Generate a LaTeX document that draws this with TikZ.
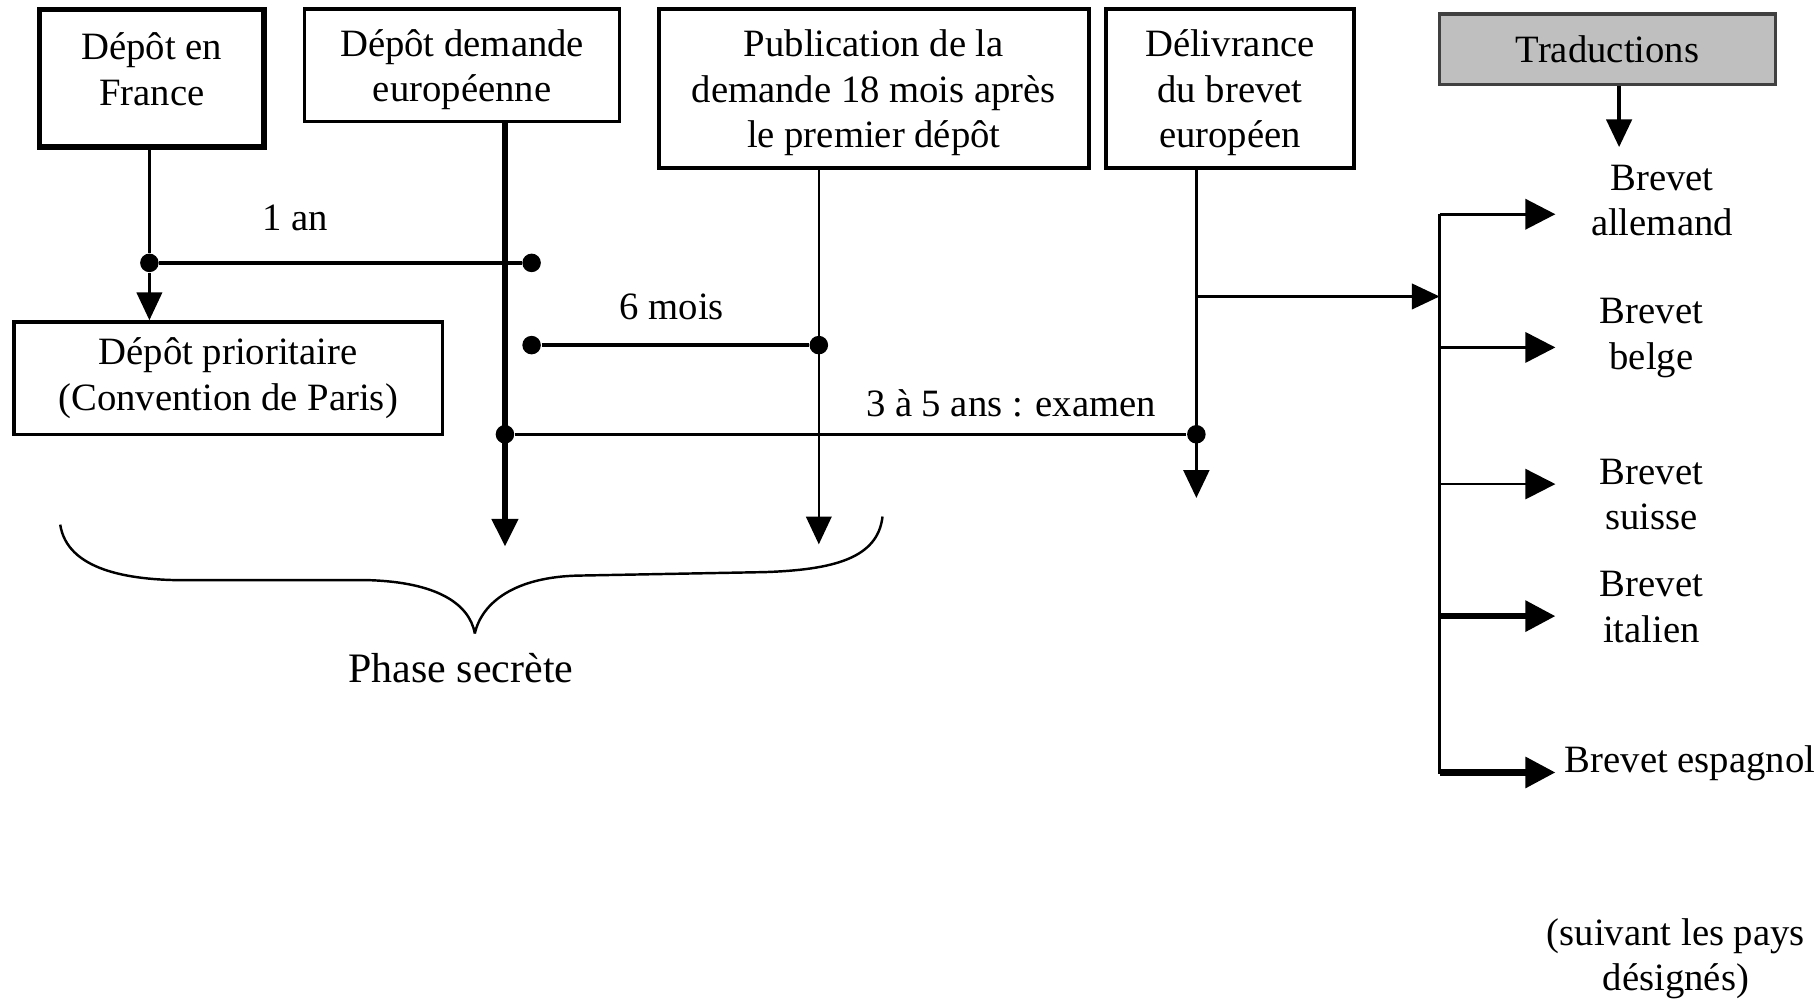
\documentclass[tikz,border=0pt]{standalone}
\usepackage{fontspec}
\setmainfont{Liberation Serif}
\usetikzlibrary{arrows.meta}

\begin{document}
\begin{tikzpicture}[x=0.01cm,y=-0.01cm,
    boite/.style={draw,line width=0.85pt,align=center,inner sep=0pt,font=\fontsize{9.5}{11.2}\selectfont},
    etiq/.style={align=center,inner sep=1pt,font=\fontsize{9.5}{11.2}\selectfont},
    point/.style={circle,fill,inner sep=0pt,minimum size=0.16cm},
    fleche/.style={-{Triangle[length=0.24cm,width=0.22cm]}},
    branche/.style={-{Triangle[length=0.26cm,width=0.26cm]}}]

    \useasboundingbox (0,0) rectangle (1568,862);

    % Les boîtes du haut
    \node[boite,line width=1.3pt,text depth=4.6pt,minimum width=1.94cm,minimum height=1.19cm] (depFr) at (131,67.5) {Dépôt en\\France};
    \node[boite,text depth=-1pt,minimum width=2.72cm,minimum height=0.97cm] (depEur) at (399,56.5) {Dépôt demande\\européenne};
    \node[boite,text depth=-1.4pt,minimum width=3.71cm,minimum height=1.37cm] (publi) at (754.5,76.5) {Publication de la\\demande 18 mois après\\le premier dépôt};
    \node[boite,text depth=-1.4pt,minimum width=2.14cm,minimum height=1.37cm] (deliv) at (1062,76.5) {Délivrance\\du brevet\\européen};
    \node[boite,draw=black!75,fill=gray!50,minimum width=2.9cm,minimum height=0.61cm] (trad) at (1388,42.5) {Traductions};
    \node[boite,minimum width=3.7cm,minimum height=0.97cm] (prio) at (197,326.5) {Dépôt prioritaire\\(Convention de Paris)};

    % Les points de jonction
    \node[point] (pA) at (129,227) {};
    \node[point] (pB1) at (459,227) {};
    \node[point] (pB2) at (459,298) {};
    \node[point] (pC) at (707,298) {};
    \node[point] (pB3) at (436,375) {};
    \node[point] (pD) at (1033,375) {};

    % Bouts des flèches
    \coordinate (finB) at (436,472);
    \coordinate (finC) at (707,470);
    \coordinate (finD) at (1033,430);
    \coordinate (finT) at (1398,127);
    \coordinate (bus) at (1243,256);
    \coordinate (busH) at (1243,185);
    \coordinate (busB) at (1243,668);

    % Dépôt en France vers dépôt prioritaire
    \draw[line width=0.6pt] (depFr.south -| pA) -- (pA);
    \draw[line width=0.6pt,fleche] (pA) -- (pA |- prio.north);
    \draw[line width=0.8pt] (pA) -- (pB1);
    \node[etiq] (an) at (255,188) {1 an};

    % Les traits verticaux
    \draw[line width=1.5pt,fleche] (depEur.south -| pB3) -- (finB);
    \draw[line width=0.6pt,fleche] (publi.south -| pC) -- (finC);
    \draw[line width=0.85pt,fleche] (deliv.south -| pD) -- (finD);

    % Les délais
    \draw[line width=0.8pt] (pB2) -- (pC);
    \node[etiq] (six) at (580,265) {6 mois};
    \draw[line width=0.8pt] (pB3) -- (pD);
    \node[etiq] (exam) at (873,348) {3 à 5 ans : examen};

    % Vers les brevets nationaux
    \draw[line width=0.7pt,fleche] (pD |- bus) -- (bus);
    \draw[line width=0.85pt] (busH) -- (busB);
    \draw[line width=0.85pt,fleche] (trad.south -| finT) -- (finT);
    \foreach \nom/\y/\ep in {all/185/0.85pt,bel/300/0.85pt,sui/418/0.6pt,ita/532/1.5pt,esp/667/1.5pt}{
        \coordinate (f-\nom) at (1343,\y);
        \draw[branche,line width=\ep] (f-\nom -| busH) -- (f-\nom);
    }

    \node[etiq] (all) at (1435,173) {Brevet\\allemand};
    \node[etiq] (bel) at (1426,292) {Brevet\\belge};
    \node[etiq] (sui) at (1426,427) {Brevet\\suisse};
    \node[etiq] (ita) at (1426,524) {Brevet\\italien};
    \node[etiq,anchor=west] (esp) at (1347,659) {Brevet espagnol};
    \node[etiq] (pays) at (1447,828) {(suivant les pays\\désignés)};

    % L'accolade de la phase secrète
    \draw[line width=0.6pt] (52,453) .. controls (58,492) and (110,501) .. (160,501) -- (320,501)
        .. controls (375,503) and (405,520) .. (410,547);
    \draw[line width=0.6pt] (410,547) .. controls (416,520) and (445,498) .. (500,497) -- (660,494)
        .. controls (720,492) and (758,482) .. (762,446);
    \node[etiq,font=\fontsize{10.3}{12}\selectfont] (phase) at (398,577) {Phase secrète};
\end{tikzpicture}
\end{document}
